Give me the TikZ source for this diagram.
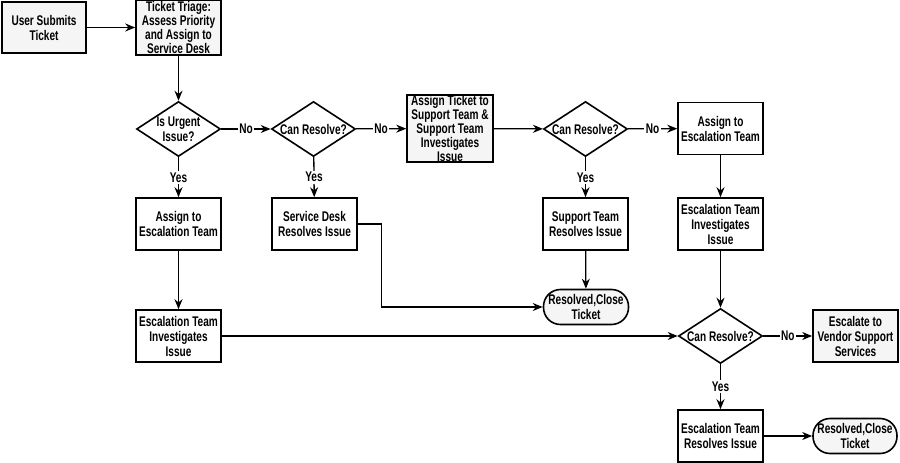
\documentclass[tikz,border=0pt]{standalone}
\usepackage{fontspec}
\setmainfont[FakeStretch=0.72]{Liberation Sans}
\usetikzlibrary{arrows.meta,shapes.geometric}
\begin{document}
\begin{tikzpicture}[x=1pt,y=-1pt,
  lbl/.style={font=\fontsize{14}{15}\selectfont\bfseries},
  tight/.style={font=\fontsize{14}{12.2}\selectfont\bfseries},
  box/.style={lbl,draw,line width=1.6pt,minimum width=85pt,minimum height=52pt,align=center,inner sep=1pt,fill=white},
  gbox/.style={box,fill=black!4},
  term/.style={lbl,draw,line width=1.6pt,minimum width=85pt,minimum height=35pt,align=center,inner sep=1pt,rounded corners=17pt,fill=black!4},
  dia/.style={draw,diamond,line width=1.6pt,minimum width=84pt,minimum height=55pt,inner sep=0pt,fill=white,
    label={[lbl,align=center,inner sep=0pt]center:#1}},
  arr/.style={-{Stealth[length=10pt,width=8pt]},line width=1.3pt},
  yn/.style={lbl,fill=white,inner sep=1.5pt}]
\useasboundingbox (0,0) rectangle (900,463);
\node[gbox,minimum width=84pt,minimum height=51pt] (user) at (44,27.5) {User Submits\\Ticket};
\node[gbox,minimum height=51pt,tight] (triage) at (178.5,27.5) {Ticket Triage:\\Assess Priority\\and Assign to\\Service Desk};
\node[dia={Is Urgent\\Issue?}] (urgent) at (178.5,129) {};
\node[dia={Can Resolve?}] (cr1) at (313.5,129) {};
\node[gbox,minimum width=86pt,minimum height=63pt,tight] (supp) at (450,128.5) {Assign Ticket to\\Support Team \&\\Support Team\\Investigates\\Issue};
\node[dia={Can Resolve?}] (cr2) at (585.5,129) {};
\node[box] (esc1) at (720.5,128.5) {Assign to\\Escalation Team};
\node[box] (aesc) at (178.5,224) {Assign to\\Escalation Team};
\node[box] (sdr) at (314.5,224) {Service Desk\\Resolves Issue};
\node[box] (str) at (585.5,224) {Support Team\\Resolves Issue};
\node[box] (esc2) at (720.5,224) {Escalation Team\\Investigates\\Issue};
\node[term] (rc1) at (586,307) {Resolved,Close\\Ticket};
\node[box] (einv) at (178.5,336) {Escalation Team\\Investigates\\Issue};
\node[dia={Can Resolve?}] (cr3) at (720.5,336) {};
\node[gbox] (vend) at (855.5,336) {Escalate to\\Vendor Support\\Services};
\node[box] (eres) at (720.5,436) {Escalation Team\\Resolves Issue};
\node[term,minimum width=84pt] (rc2) at (855,436) {Resolved,Close\\Ticket};

\draw[arr] (user) -- (triage);
\draw[arr] (triage) -- (urgent);
\draw[arr] (urgent) -- node[yn]{No} (cr1);
\draw[arr] (cr1) -- node[yn]{No} (supp);
\draw[arr] (supp) -- (cr2);
\draw[arr] (cr2) -- node[yn]{No} (esc1);
\draw[arr] (urgent) -- node[yn]{Yes} (aesc);
\draw[arr] (cr1) -- node[yn]{Yes} (sdr);
\draw[arr] (cr2) -- node[yn]{Yes} (str);
\draw[arr] (esc1) -- (esc2);
\draw[arr] (aesc) -- (einv);
\draw[arr] (str) -- (rc1);
\draw[arr] (sdr.east) -- ++(24,0) |- (rc1.west);
\draw[arr] (einv) -- (cr3);
\draw[arr] (esc2) -- (cr3);
\draw[arr] (cr3) -- node[yn]{No} (vend);
\draw[arr] (cr3) -- node[yn]{Yes} (eres);
\draw[arr] (eres) -- (rc2);
\end{tikzpicture}
\end{document}
